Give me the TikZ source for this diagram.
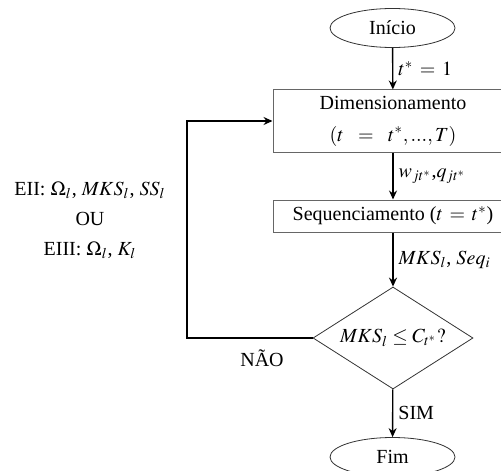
\documentclass[tikz,border=0pt]{standalone}
\usepackage{mathptmx}
\usepackage[no-math]{fontspec}
\setmainfont{Liberation Serif}
\usetikzlibrary{shapes.geometric,arrows.meta}
\begin{document}
\begin{tikzpicture}[x=0.5pt,y=-0.5pt,
  font=\fontsize{10}{12}\selectfont,
  term/.style={ellipse,draw=black!80,line width=0.4pt,minimum width=62.5pt,minimum height=19.5pt,inner sep=0pt},
  proc/.style={rectangle,draw=black!60,line width=0.5pt,minimum width=120pt,inner sep=0pt,align=center},
  dec/.style={diamond,draw=black!80,line width=0.4pt,minimum width=80pt,minimum height=51pt,inner sep=0pt,aspect=1.56},
  arr/.style={draw=black,line width=0.7pt,-{Stealth[length=4.5pt,width=4pt,inset=1.5pt]}},
  lbl/.style={right,inner sep=2.5pt}]
\useasboundingbox (0,0) rectangle (501,470);
\clip (0,0) rectangle (501,470);
\node[term] (ini) at (392.5,28) {Início};
\node[proc,minimum height=31pt] (dim) at (393,121) {Dimensionamento\\[4pt]$(t\ \ =\ \ t^{*}, ..., T)$};
\node[proc,minimum height=16pt] (seq) at (393,216) {Sequenciamento ($t\,=\,t^{*}$)};
\node[dec] (dec) at (393,338) {$MKS_l \leq C_{t^*}?$};
\node[term] (fim) at (392.5,457) {Fim};
\coordinate (c) at (187,338);
\draw[arr] (ini) -- node[lbl] (l1) {$t^{*}\,=\,1$} (dim);
\draw[arr] (dim) -- node[lbl] (l2) {$w_{jt^*}$,$q_{jt^*}$} (seq);
\draw[arr] (seq) -- node[lbl] (l3) {$MKS_l$, $Seq_i$} (dec);
\draw[arr] (dec) -- node[lbl] (l4) {SIM} (fim);
\draw[arr] (dec.west) -- (c) |- (dim.west);
\node (nao) at (262,358) {NÃO};
\node[align=center] (info) at (90,220) {EII: $\Omega_l$, $MKS_l$, $SS_l$\\[3pt]OU\\[3pt]EIII: $\Omega_l$, $K_l$};
\end{tikzpicture}
\end{document}
